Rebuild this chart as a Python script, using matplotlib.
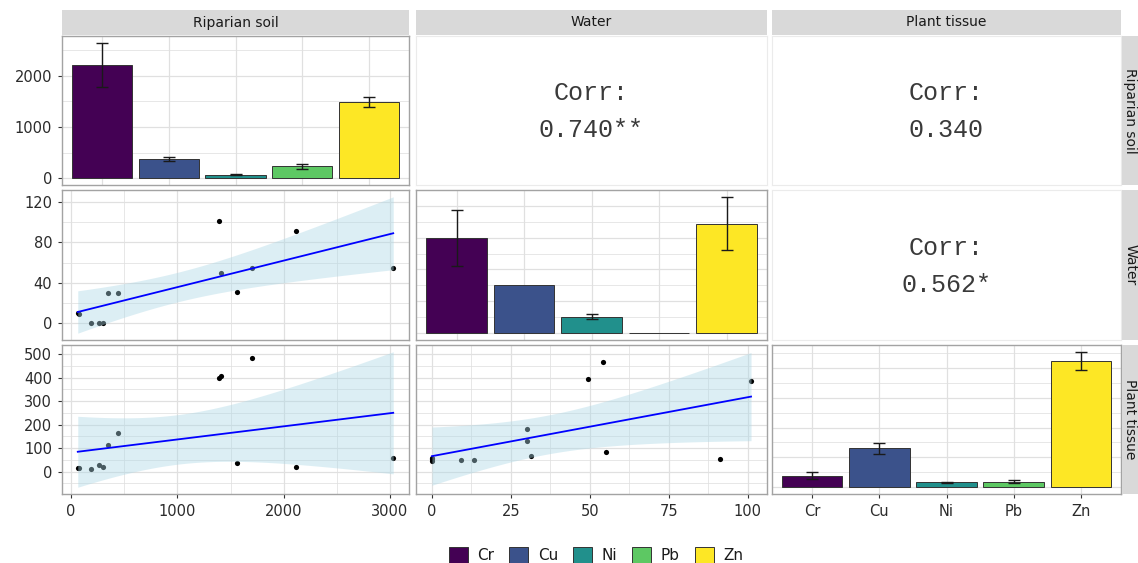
"""ggpairs-style matrix of metal concentrations in soil, water and plant tissue."""

import numpy as np
import matplotlib

matplotlib.use("Agg")
import matplotlib.pyplot as plt
from matplotlib.patches import Patch
from matplotlib.ticker import MultipleLocator, NullLocator

# ---- data -------------------------------------------------------------
media = ["Riparian soil", "Water", "Plant tissue"]
metals = ["Cr", "Cu", "Ni", "Pb", "Zn"]
metal_colors = ["#440154", "#3B528B", "#21908C", "#5DC863", "#FDE725"]

soil_mean = [2210, 367, 72, 229, 1484]
soil_err = [430, 40, 5, 40, 98]
water_mean = [59.7, 30.4, 10.4, 0.0, 68.8]
water_err = [17.6, 0.0, 1.5, 0.0, 16.8]
plant_mean = [39, 130, 17, 19, 424]
plant_err = [13, 18.5, 2, 5, 30]

soil_x = [62, 72, 187, 265, 296, 346, 439, 1396, 1415, 1561, 1701, 2112, 3032]
water_vs_soil = [10.7, 8.9, 0, 0, 0, 30, 30, 101, 49.5, 30.8, 54.5, 91.4, 55]
plant_vs_soil = [17, 17, 12, 29, 18.5, 114, 165, 397, 406, 36, 485, 18.5, 58]
water_x = [0, 0, 0, 9.3, 13.2, 30, 30, 31.2, 49.4, 54, 55.2, 91.3, 101]
plant_vs_water = [58, 52, 46, 50, 49, 183, 131, 66, 396, 467, 85, 53, 386]

corr_labels = {(0, 1): "0.740**", (0, 2): "0.340", (1, 2): "0.562*"}

T_CRIT = 2.201  # t quantile, 95% CI, df = 11

# ---- layout (pixels) --------------------------------------------------
W, H = 1138, 563
cols = [(62, 409), (416, 767), (772, 1121)]
rows = [(36, 185), (190, 340), (345, 494)]

BORDER = "#A3A3A3"
GRID = "#E0E0E0"
TEXT = "#2B2B2B"


def rect(x0, y0, x1, y1):
    return [x0 / W, 1 - y1 / H, (x1 - x0) / W, (y1 - y0) / H]


def expand(lo, hi, mult=0.05):
    pad = (hi - lo) * mult
    return lo - pad, hi + pad


def lm_band(x, y, n_grid=80):
    x = np.asarray(x, float)
    y = np.asarray(y, float)
    n = len(x)
    slope, icpt = np.polyfit(x, y, 1)
    xs = np.linspace(x.min(), x.max(), n_grid)
    fit = icpt + slope * xs
    resid = y - (icpt + slope * x)
    s = np.sqrt((resid ** 2).sum() / (n - 2))
    sxx = ((x - x.mean()) ** 2).sum()
    se = s * np.sqrt(1 / n + (xs - x.mean()) ** 2 / sxx)
    return xs, fit, fit - T_CRIT * se, fit + T_CRIT * se


def style_panel(ax):
    for sp in ax.spines.values():
        sp.set_color(BORDER)
        sp.set_linewidth(1.0)
    ax.grid(True, which="major", color=GRID, lw=0.9)
    ax.grid(True, which="minor", color=GRID, lw=0.55)
    ax.set_axisbelow(True)
    ax.tick_params(which="both", direction="out", length=3, width=0.8,
                   color="#333333", labelsize=10.5, labelcolor=TEXT)
    ax.tick_params(which="minor", length=0)
    ax.tick_params(axis="x", pad=4)
    ax.tick_params(axis="y", pad=4)


def draw_bars(ax, means, errs):
    pos = np.arange(1, len(metals) + 1)
    ax.bar(pos, means, width=0.9, color=metal_colors, edgecolor="#333333",
           linewidth=0.7, zorder=2)
    keep = [i for i, e in enumerate(errs) if e > 0]
    ax.errorbar(pos[keep], np.asarray(means)[keep], yerr=np.asarray(errs)[keep],
                fmt="none", ecolor="#1A1A1A", elinewidth=1.0, capsize=4.3,
                capthick=1.0, zorder=3)
    top = max(m + e for m, e in zip(means, errs))
    ax.set_xlim(0.4, len(metals) + 0.6)
    ax.set_ylim(*expand(0, top))
    ax.set_xticks(pos)
    ax.set_xticklabels(metals)
    ax.xaxis.set_minor_locator(NullLocator())


def draw_scatter(ax, x, y):
    xs, fit, lo, hi = lm_band(x, y)
    ax.scatter(x, y, s=14, color="black", linewidths=0, zorder=2)
    ax.fill_between(xs, lo, hi, color="#ADD8E6", alpha=0.42, linewidth=0, zorder=3)
    ax.plot(xs, fit, color="#0000FF", lw=1.3, zorder=4)
    return min(lo.min(), min(y)), max(hi.max(), max(y))


fig = plt.figure(figsize=(W / 100, H / 100), dpi=100)

axes = {}
for r, (y0, y1) in enumerate(rows):
    for c, (x0, x1) in enumerate(cols):
        axes[(r, c)] = fig.add_axes(rect(x0, y0, x1, y1))

# diagonal: bar charts
draw_bars(axes[(0, 0)], soil_mean, soil_err)
draw_bars(axes[(1, 1)], water_mean, water_err)
draw_bars(axes[(2, 2)], plant_mean, plant_err)

# lower triangle: scatter + lm
lo21, hi21 = draw_scatter(axes[(1, 0)], soil_x, water_vs_soil)
lo31, hi31 = draw_scatter(axes[(2, 0)], soil_x, plant_vs_soil)
lo32, hi32 = draw_scatter(axes[(2, 1)], water_x, plant_vs_water)

axes[(1, 0)].set_ylim(*expand(lo21, hi21))
row3_lim = expand(min(lo31, lo32), max(hi31, hi32))
axes[(2, 0)].set_ylim(*row3_lim)
axes[(2, 1)].set_ylim(*row3_lim)
for r in (1, 2):
    axes[(r, 0)].set_xlim(*expand(min(soil_x), max(soil_x)))
axes[(2, 1)].set_xlim(*expand(min(water_x), max(water_x)))

# gridline spacing per panel
locators = {
    (0, 0): (None, (1000, 500)),
    (1, 0): ((1000, 500), (40, 20)),
    (1, 1): (None, (20, 10)),
    (2, 0): ((1000, 500), (100, 50)),
    (2, 1): ((25, 12.5), (100, 50)),
    (2, 2): (None, (100, 50)),
}
for key, (xl, yl) in locators.items():
    ax = axes[key]
    style_panel(ax)
    if xl is not None:
        ax.xaxis.set_major_locator(MultipleLocator(xl[0]))
        ax.xaxis.set_minor_locator(MultipleLocator(xl[1]))
    ax.yaxis.set_major_locator(MultipleLocator(yl[0]))
    ax.yaxis.set_minor_locator(MultipleLocator(yl[1]))
    r, c = key
    if r != 2:
        ax.tick_params(axis="x", which="both", bottom=False, labelbottom=False)
    if c != 0:
        ax.tick_params(axis="y", which="both", left=False, labelleft=False)

# upper triangle: correlation text
for (r, c), label in corr_labels.items():
    ax = axes[(r, c)]
    ax.set_xticks([])
    ax.set_yticks([])
    for sp in ax.spines.values():
        sp.set_color("#EBEBEB")
        sp.set_linewidth(0.8)
    ax.text(0.5, 0.615, "Corr:", transform=ax.transAxes, ha="center", va="center",
            family="Liberation Mono", fontsize=18, color="#3A3A3A")
    ax.text(0.5, 0.37, label, transform=ax.transAxes, ha="center", va="center",
            family="Liberation Mono", fontsize=18, color="#3A3A3A")

# facet strips
for c, (x0, x1) in enumerate(cols):
    sax = fig.add_axes(rect(x0, 10, x1, 35))
    sax.set_facecolor("#D9D9D9")
    sax.set_xticks([])
    sax.set_yticks([])
    for sp in sax.spines.values():
        sp.set_visible(False)
    sax.text(0.5, 0.5, media[c], transform=sax.transAxes, ha="center",
             va="center", fontsize=10, color="#1A1A1A")
for r, (y0, y1) in enumerate(rows):
    sax = fig.add_axes(rect(1122, y0, 1147, y1))
    sax.set_facecolor("#D9D9D9")
    sax.set_xticks([])
    sax.set_yticks([])
    for sp in sax.spines.values():
        sp.set_visible(False)
    sax.text(0.33, 0.5, media[r], transform=sax.transAxes, ha="center",
             va="center", rotation=-90, fontsize=10, color="#1A1A1A")

handles = [Patch(facecolor=col, edgecolor="#333333", linewidth=0.7) for col in metal_colors]
fig.legend(handles, metals, loc="center", bbox_to_anchor=(596 / W, 1 - 555 / H),
           ncol=5, frameon=False, fontsize=11, handlelength=1.25, handleheight=1.25,
           handletextpad=0.6, columnspacing=1.0, labelcolor="#1A1A1A")

fig.savefig("out.png", dpi=100)
